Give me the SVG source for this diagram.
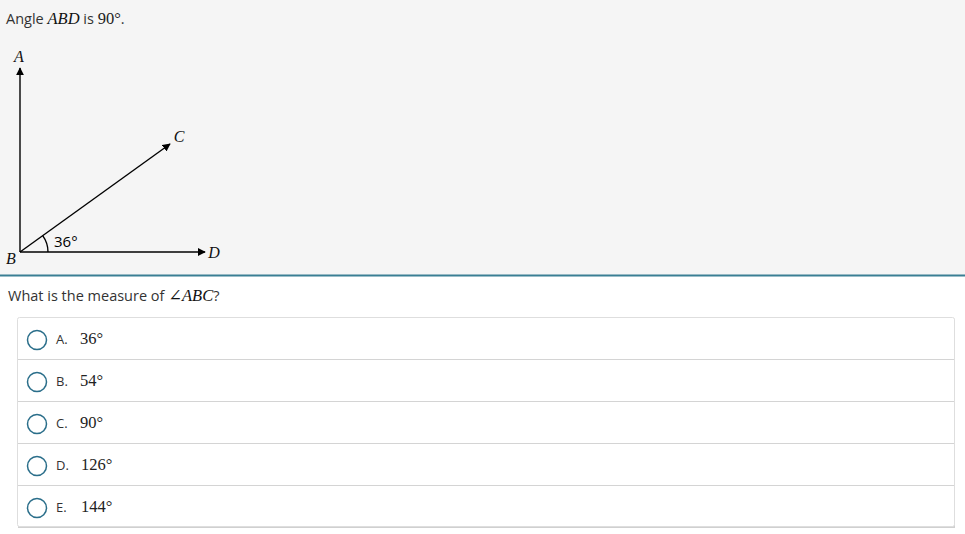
<svg xmlns="http://www.w3.org/2000/svg" width="965" height="534" viewBox="0 0 965 534">
<defs>
<style>
.sans{font-family:"Open Sans","Noto Sans","Liberation Sans",sans-serif;fill:#333}
.math{font-family:"Liberation Serif","DejaVu Serif",serif;font-style:italic;fill:#111}
.num{font-family:"Liberation Serif","DejaVu Serif",serif;fill:#222}
.ray{stroke:#000;stroke-width:1.4;fill:none}
.sep{stroke:#d4d4d4;stroke-width:1}
.radio{fill:#fff;stroke:#2a6e8a;stroke-width:1.5}
</style>
<marker id="arr" viewBox="0 0 10 10" refX="9" refY="5" markerWidth="8" markerHeight="8" markerUnits="userSpaceOnUse" orient="auto">
<path d="M0,0 L10,5 L0,10 z" fill="#000"/>
</marker>
</defs>
<rect x="0" y="0" width="965" height="275" fill="#f5f5f5"/>
<rect x="0" y="275" width="965" height="259" fill="#fff"/>
<line x1="0" y1="275.5" x2="965" y2="275.5" stroke="#3a7f94" stroke-width="2"/>
<text x="6" y="24" class="sans" font-size="14.5">Angle <tspan class="math" font-size="16.5">ABD</tspan> is <tspan class="num" font-size="16.5">90°</tspan>.</text>
<g id="connectors">
<line class="ray" x1="20" y1="252" x2="20" y2="68" marker-end="url(#arr)"/>
<line class="ray" x1="20" y1="252" x2="170" y2="144" marker-end="url(#arr)"/>
<line class="ray" x1="20" y1="252" x2="205" y2="252" marker-end="url(#arr)"/>
<path class="ray" d="M42.7,235.7 A28,28 0 0 1 48,252" stroke-width="1"/>
</g>
<g id="A"><text x="19" y="62" class="math" font-size="16" text-anchor="middle">A</text></g>
<g id="B"><text x="11" y="264" class="math" font-size="16" text-anchor="middle">B</text></g>
<g id="C"><text x="179" y="142" class="math" font-size="16" text-anchor="middle">C</text></g>
<g id="D"><text x="214" y="258" class="math" font-size="16" text-anchor="middle">D</text></g>
<g id="angle"><text x="54" y="247" font-family="'Open Sans','DejaVu Sans',sans-serif" font-size="15" fill="#000">36°</text></g>
<text x="8" y="301" class="sans" font-size="14.5">What is the measure of <tspan class="math" font-size="16.5">∠ABC</tspan>?</text>
<rect x="18" y="319" width="937" height="209" fill="#d0d0d0"/>
<rect x="17.5" y="317.5" width="937" height="209" fill="#fff" stroke="#dedede" rx="2"/>
<line class="sep" x1="18" y1="359.5" x2="954" y2="359.5"/>
<line class="sep" x1="18" y1="401.5" x2="954" y2="401.5"/>
<line class="sep" x1="18" y1="443.5" x2="954" y2="443.5"/>
<line class="sep" x1="18" y1="485.5" x2="954" y2="485.5"/>
<g id="optA"><circle class="radio" cx="37" cy="340" r="9.5"/><text x="56" y="344" class="sans" font-size="13" fill="#555">A.</text><text x="80" y="344" class="num" font-size="16.5">36°</text></g>
<g id="optB"><circle class="radio" cx="37" cy="382" r="9.5"/><text x="56" y="386" class="sans" font-size="13">B.</text><text x="80" y="386" class="num" font-size="16.5">54°</text></g>
<g id="optC"><circle class="radio" cx="37" cy="424" r="9.5"/><text x="56" y="428" class="sans" font-size="13">C.</text><text x="80" y="428" class="num" font-size="16.5">90°</text></g>
<g id="optD"><circle class="radio" cx="37" cy="466" r="9.5"/><text x="56" y="470" class="sans" font-size="13">D.</text><text x="81" y="470" class="num" font-size="16.5">126°</text></g>
<g id="optE"><circle class="radio" cx="37" cy="508" r="9.5"/><text x="56" y="512" class="sans" font-size="13">E.</text><text x="81" y="512" class="num" font-size="16.5">144°</text></g>
</svg>
